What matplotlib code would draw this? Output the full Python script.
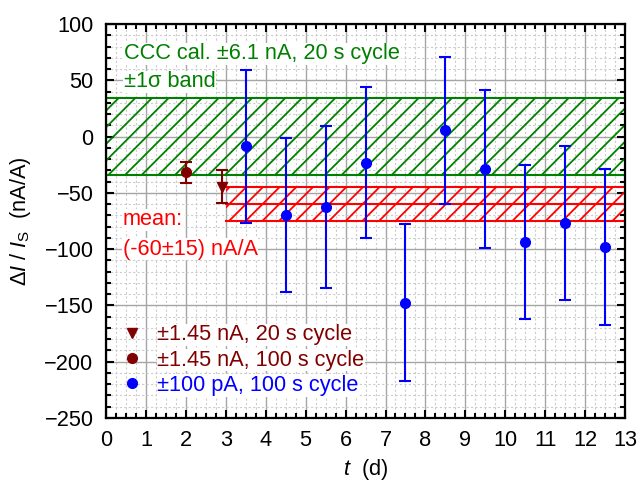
import numpy as np
import matplotlib.pyplot as plt
from matplotlib.lines import Line2D
from matplotlib.ticker import MultipleLocator

plt.rcParams['font.family'] = ['Liberation Sans', 'DejaVu Sans']
plt.rcParams['mathtext.fontset'] = 'custom'
plt.rcParams['mathtext.rm'] = 'Liberation Sans'
plt.rcParams['mathtext.it'] = 'Liberation Sans:italic'
plt.rcParams['font.size'] = 15.7
plt.rcParams['hatch.linewidth'] = 1.3

# 100 pA source, 100 s cycle
t_100pA = [3.5, 4.5, 5.5, 6.5, 7.5, 8.5, 9.5, 10.5, 11.5, 12.5]
dev_100pA = [-8.6, -69.8, -62.7, -23.3, -147.6, 5.5, -28.7, -93.6, -76.8, -97.8]
err_100pA = [67.8, 68.2, 72.0, 67.1, 69.7, 65.4, 70.0, 68.2, 68.4, 69.3]

# 1.45 nA source
t_145_100s = [2.0]
dev_145_100s = [-31.7]
err_145_100s = [9.2]
t_145_20s = [2.9]
dev_145_20s = [-44.4]
err_145_20s = [14.8]

# CCC calibration band and mean deviation
ccc_sigma = 34.3
mean_dev = -60.0
mean_err = 15.0

GREEN = '#008000'
RED = '#ff0000'
DRED = '#800000'
BLUE = '#0000ff'

fig = plt.figure(figsize=(6.43, 4.87), dpi=100)
ax = fig.add_axes([0.1649, 0.1417, 0.8072, 0.809])

ax.set_xlim(0, 13)
ax.set_ylim(-250, 100)

# bands
ax.fill_between([0, 13], -ccc_sigma, ccc_sigma, facecolor='none',
                edgecolor=GREEN, hatch='//', linewidth=0, zorder=2)
for y in (-ccc_sigma, ccc_sigma):
    ax.plot([0, 13], [y, y], color=GREEN, lw=1.5, zorder=2)

ax.fill_between([3, 13], mean_dev - mean_err, mean_dev + mean_err,
                facecolor='none', edgecolor=RED, hatch='//', linewidth=0, zorder=2)
for y in (mean_dev - mean_err, mean_dev, mean_dev + mean_err):
    ax.plot([3, 13], [y, y], color=RED, lw=1.5, zorder=2)

ebkw = dict(ls='none', capsize=4, capthick=1.5, elinewidth=1.5, zorder=4)
ax.errorbar(t_100pA, dev_100pA, yerr=err_100pA, fmt='o', color=BLUE, ms=7, **ebkw)
ax.errorbar(t_145_100s, dev_145_100s, yerr=err_145_100s, fmt='o', color=DRED, ms=7, **ebkw)
ax.errorbar(t_145_20s, dev_145_20s, yerr=err_145_20s, fmt='v', color=DRED, ms=7, **ebkw)

# annotations
box = dict(facecolor='white', edgecolor='none', pad=0.5)
ax.text(0.45, 73.5, 'CCC cal. \u00b16.1 nA, 20 s cycle', color=GREEN, va='center', bbox=box, zorder=3)
ax.text(0.45, 48.5, '\u00b11\u03c3 band', color=GREEN, va='center', bbox=box, zorder=3)
ax.text(0.42, -74, 'mean:', color=RED, va='center', bbox=box, zorder=3)
ax.text(0.42, -100, '(-60\u00b115) nA/A', color=RED, va='center', bbox=box, zorder=3)

handles = [
    Line2D([], [], marker='v', color=DRED, ls='none', ms=7),
    Line2D([], [], marker='o', color=DRED, ls='none', ms=7),
    Line2D([], [], marker='o', color=BLUE, ls='none', ms=7),
]
labels = ['\u00b11.45 nA, 20 s cycle', '\u00b11.45 nA, 100 s cycle', '\u00b1100 pA, 100 s cycle']
leg = ax.legend(handles, labels, loc='lower left', bbox_to_anchor=(0.0, 0.017),
                frameon=False, handlelength=1.0, handletextpad=0.65,
                labelspacing=0.2, borderaxespad=0.3)
for txt, c in zip(leg.get_texts(), [DRED, DRED, BLUE]):
    txt.set_color(c)
    txt.set_bbox(dict(facecolor='white', edgecolor='none', pad=0.5))
leg.set_zorder(5)

# axes, ticks, grid
ax.xaxis.set_major_locator(MultipleLocator(1))
ax.xaxis.set_minor_locator(MultipleLocator(0.25))
ax.yaxis.set_major_locator(MultipleLocator(50))
ax.yaxis.set_minor_locator(MultipleLocator(10))
ax.tick_params(which='both', direction='in', top=True, right=True, width=1.5)
ax.tick_params(which='major', length=6, labelsize=15.7)
ax.tick_params(axis='x', which='major', pad=9)
ax.tick_params(axis='y', which='major', pad=9)
ax.tick_params(which='minor', length=3.5)
ax.grid(which='major', color='#a6a6a6', lw=1.0)
ax.grid(which='minor', color='#cccccc', lw=0.8, ls=(0, (2, 2)))
ax.set_axisbelow(True)
for s in ax.spines.values():
    s.set_linewidth(1.6)

ax.set_xlabel('$t$  (d)', fontsize=15.7, labelpad=4)
ax.set_ylabel(r'$\Delta I\ /\ I_\mathrm{S}$  (nA/A)', fontsize=15.7, labelpad=8)

fig.savefig('out.png', dpi=100)
